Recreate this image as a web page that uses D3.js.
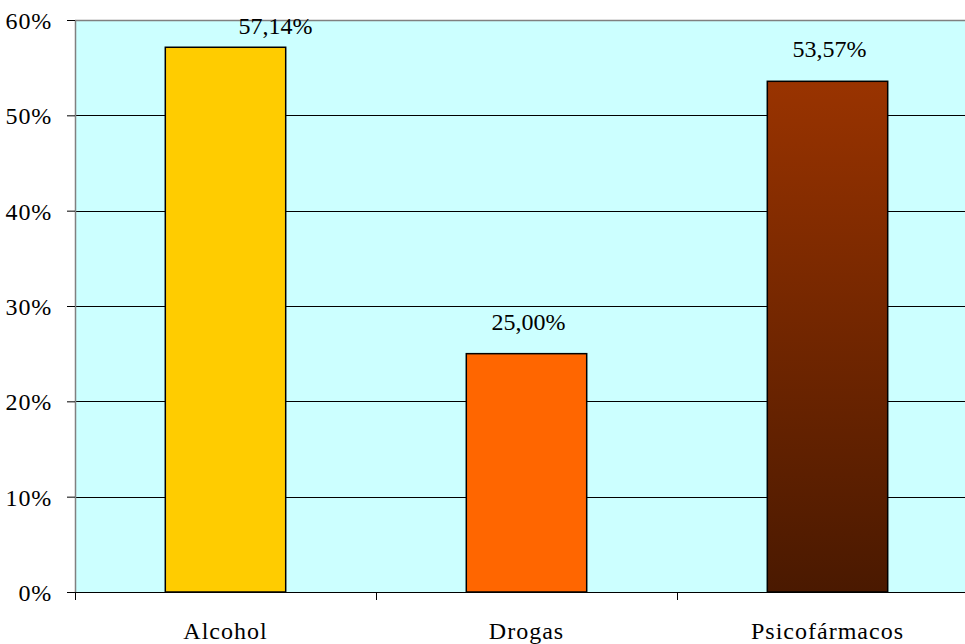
<!DOCTYPE html>
<html><head><meta charset="utf-8">
<script src="https://cdn.jsdelivr.net/npm/d3@7/dist/d3.min.js"></script>
<style>html,body{margin:0;padding:0;background:#fff;}svg{display:block;}</style>
</head><body>
<svg id="chart" width="965" height="644"></svg>
<script>
const categories = ["Alcohol", "Drogas", "Psicofármacos"];
const values = [57.14, 25.00, 53.57];
const valueLabels = ["57,14%", "25,00%", "53,57%"];
const yTicks = [0, 10, 20, 30, 40, 50, 60];
const yTickLabels = ["0%", "10%", "20%", "30%", "40%", "50%", "60%"];

const svg = d3.select("#chart");
const m = {left: 75, top: 20, right: 978, bottom: 592};
const x = d3.scaleBand().domain(categories).range([m.left, m.right]).paddingInner(0).paddingOuter(0);
const y = d3.scaleLinear().domain([0, 60]).range([m.bottom, m.top]);

const defs = svg.append("defs");
const g1 = defs.append("linearGradient").attr("id", "gPsico").attr("x1", 0).attr("y1", 0).attr("x2", 0).attr("y2", 1);
g1.append("stop").attr("offset", "0%").attr("stop-color", "#993300");
g1.append("stop").attr("offset", "100%").attr("stop-color", "#4a1900");
const fills = ["#FFCC00", "#FF6600", "url(#gPsico)"];

// plot background
svg.append("rect").attr("x", m.left).attr("y", m.top).attr("width", m.right - m.left).attr("height", m.bottom - m.top)
  .attr("fill", "#CCFFFF");

// gridlines
svg.append("g").selectAll("line").data(yTicks.filter(t => t > 0 && t < 60)).join("line")
  .attr("x1", m.left).attr("x2", m.right)
  .attr("y1", d => Math.round(y(d)) + 0.5).attr("y2", d => Math.round(y(d)) + 0.5)
  .attr("stroke", "#000").attr("stroke-width", 1);

// top and left border (gray)
svg.append("line").attr("x1", m.left).attr("x2", m.right).attr("y1", m.top + 0.5).attr("y2", m.top + 0.5)
  .attr("stroke", "#808080").attr("stroke-width", 1.5);
svg.append("line").attr("x1", m.left + 0.5).attr("x2", m.left + 0.5).attr("y1", m.top).attr("y2", m.bottom)
  .attr("stroke", "#808080").attr("stroke-width", 1.5);

// bars
const bw = x.bandwidth() * 0.4;
svg.append("g").selectAll("rect").data(values).join("rect")
  .attr("x", (d, i) => x(categories[i]) + (x.bandwidth() - bw) / 2)
  .attr("y", d => y(d))
  .attr("width", bw)
  .attr("height", d => y(0) - y(d))
  .attr("fill", (d, i) => fills[i])
  .attr("stroke", "#000").attr("stroke-width", 1.5);

// y axis
const yAxis = d3.axisLeft(y).tickValues(yTicks).tickFormat((d, i) => yTickLabels[i]).tickSize(8).tickPadding(15);
const ya = svg.append("g").attr("transform", `translate(${m.left},0)`).call(yAxis);
ya.select(".domain").remove();
ya.selectAll(".tick line").attr("stroke", "#000");
ya.selectAll(".tick text").attr("font-family", "'Liberation Serif', 'Times New Roman', serif")
  .attr("font-size", 24).attr("letter-spacing", 0.8).attr("fill", "#000").attr("dy", "0.36em");

// x axis
const xAxis = d3.axisBottom(x).tickSize(0).tickFormat(d => d);
const xa = svg.append("g").attr("transform", `translate(0,${m.bottom})`).call(xAxis);
xa.select(".domain").attr("stroke", "#000").attr("stroke-width", 1.2);
xa.selectAll(".tick text").attr("font-family", "'Liberation Serif', 'Times New Roman', serif")
  .attr("font-size", 24).attr("letter-spacing", 1).attr("fill", "#000").attr("y", 47).attr("dy", 0);
// category divider ticks
svg.append("g").selectAll("line").data(categories.concat([null])).join("line")
  .attr("x1", (d, i) => i < categories.length ? Math.round(x(d)) + 0.5 : m.right)
  .attr("x2", (d, i) => i < categories.length ? Math.round(x(d)) + 0.5 : m.right)
  .attr("y1", m.bottom).attr("y2", m.bottom + 8)
  .attr("stroke", "#000").attr("stroke-width", 1);

// value labels
svg.append("g").selectAll("text").data(values).join("text")
  .attr("x", (d, i) => {
    const cx = x(categories[i]) + x.bandwidth() / 2;
    return (y(d) - 24 < 34) ? cx + 50 : cx + 2;
  })
  .attr("y", d => Math.max(y(d) - 24, 34))
  .attr("text-anchor", "middle")
  .attr("font-family", "'Liberation Serif', 'Times New Roman', serif")
  .attr("font-size", 24).attr("fill", "#000")
  .text((d, i) => valueLabels[i]);
</script>
</body></html>
